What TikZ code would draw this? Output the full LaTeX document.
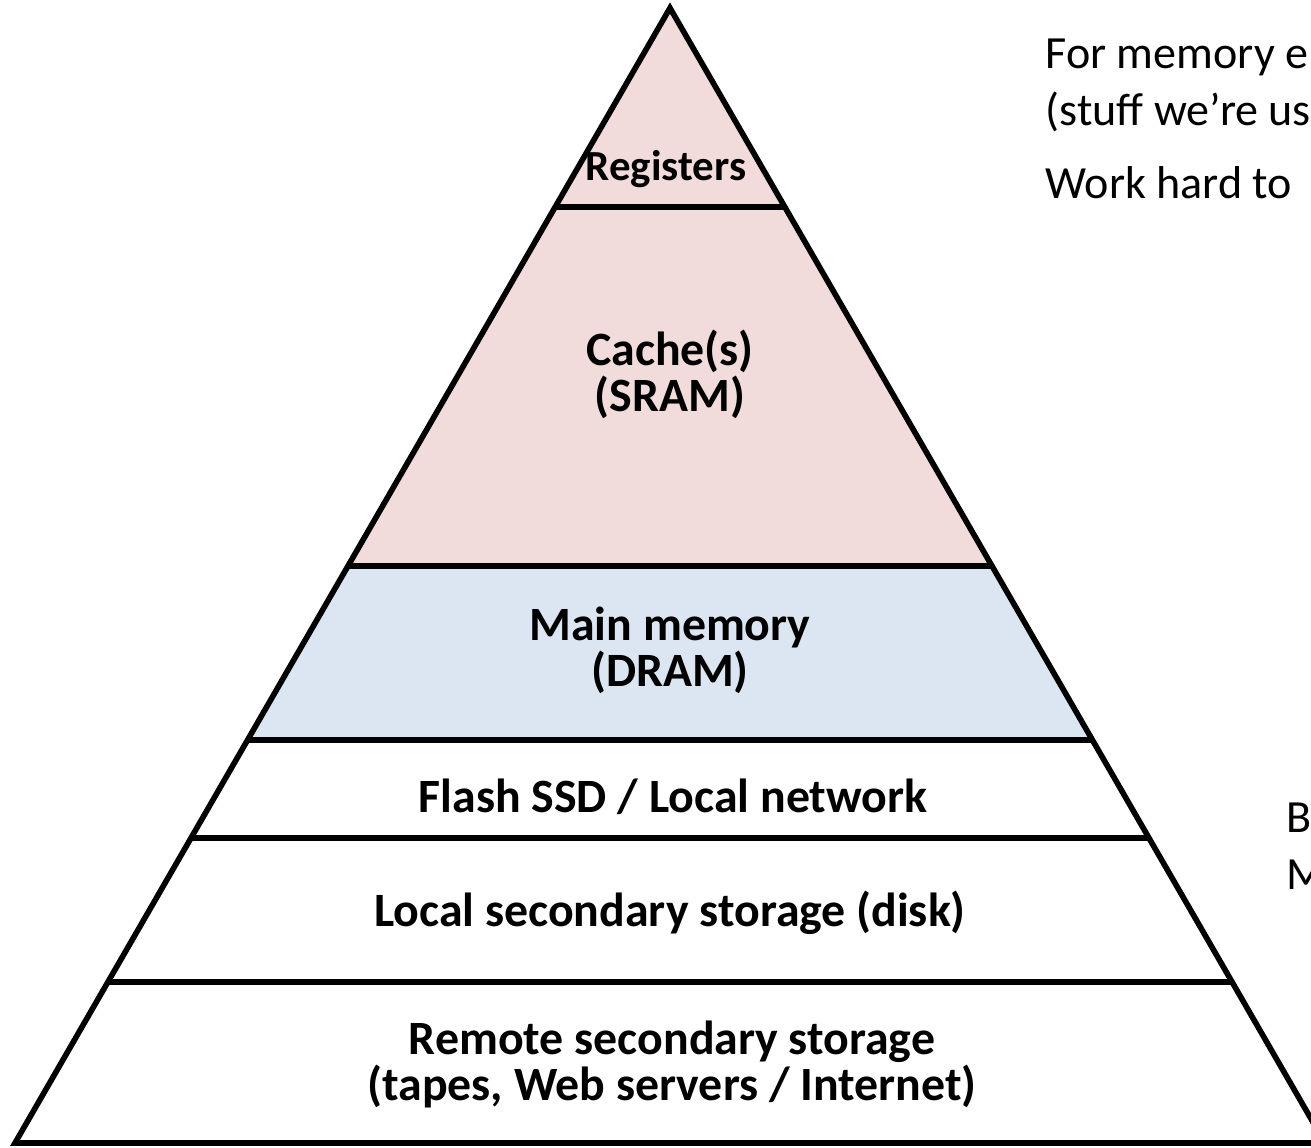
\documentclass[tikz,border=0pt]{standalone}
\usepackage{fontspec}
\usepackage{xcolor}
\setmainfont{Carlito}
\usepackage{tikz}

\definecolor{sramfill}{HTML}{F2DCDB}
\definecolor{dramfill}{HTML}{DCE6F2}

\tikzset{
    lvl/.style={font=\fontsize{13.6}{13.1}\selectfont\bfseries, align=center, inner sep=0pt},
    side/.style={font=\fontsize{13.1}{16}\selectfont, anchor=base west, inner sep=0pt},
    edge/.style={line width=1.6pt, line join=miter}
}

\begin{document}
\begin{tikzpicture}[x=0.01cm, y=-0.01cm]
        \useasboundingbox (0,0) rectangle (1311,1147);
        \clip (0,0) rectangle (1311,1147);

        % corners of the pyramid
        \coordinate (top) at (670,8);
        \coordinate (bl) at (15,1143);
        \coordinate (br) at (1325,1143);

        % band edges, left and right
        \coordinate (r1) at (555.2,207);  \coordinate (r2) at (784.8,207);
        \coordinate (c1) at (348.0,566);  \coordinate (c2) at (992.0,566);
        \coordinate (m1) at (247.6,740);  \coordinate (m2) at (1092.4,740);
        \coordinate (f1) at (191.0,838);  \coordinate (f2) at (1149.0,838);
        \coordinate (d1) at (107.9,982);  \coordinate (d2) at (1232.1,982);

        \fill[sramfill] (top) -- (c2) -- (c1) -- cycle;
        \fill[dramfill] (c1) -- (c2) -- (m2) -- (m1) -- cycle;

        \draw[edge] (r1) -- (r2);
        \draw[edge] (c1) -- (c2);
        \draw[edge] (m1) -- (m2);
        \draw[edge] (f1) -- (f2);
        \draw[edge] (d1) -- (d2);
        \draw[edge] (bl) -- (top) -- (br) -- cycle;

        \node[lvl, font=\fontsize{12.2}{13}\selectfont\bfseries, anchor=base] (regs) at (666,180) {Registers};
        \node[lvl] (cache) at (670,374) {Cache(s)\\(SRAM)};
        \node[lvl] (dram) at (670,650) {Main memory\\(DRAM)};
        \node[lvl] (flash) at (673,797) {Flash SSD / Local network};
        \node[lvl] (disk) at (670,913) {Local secondary storage (disk)};
        \node[lvl] (remote) at (672,1064) {Remote secondary storage\\(tapes, Web servers / Internet)};

        \node[side] (note1) at (1045,68) {For memory e};
        \node[side] (note2) at (1045,125) {(stuff we’re us};
        \node[side] (note3) at (1045,198) {Work hard to};
        \node[side] (note4) at (1286,832) {B};
        \node[side] (note5) at (1286,889) {M};
    \end{tikzpicture}
\end{document}
